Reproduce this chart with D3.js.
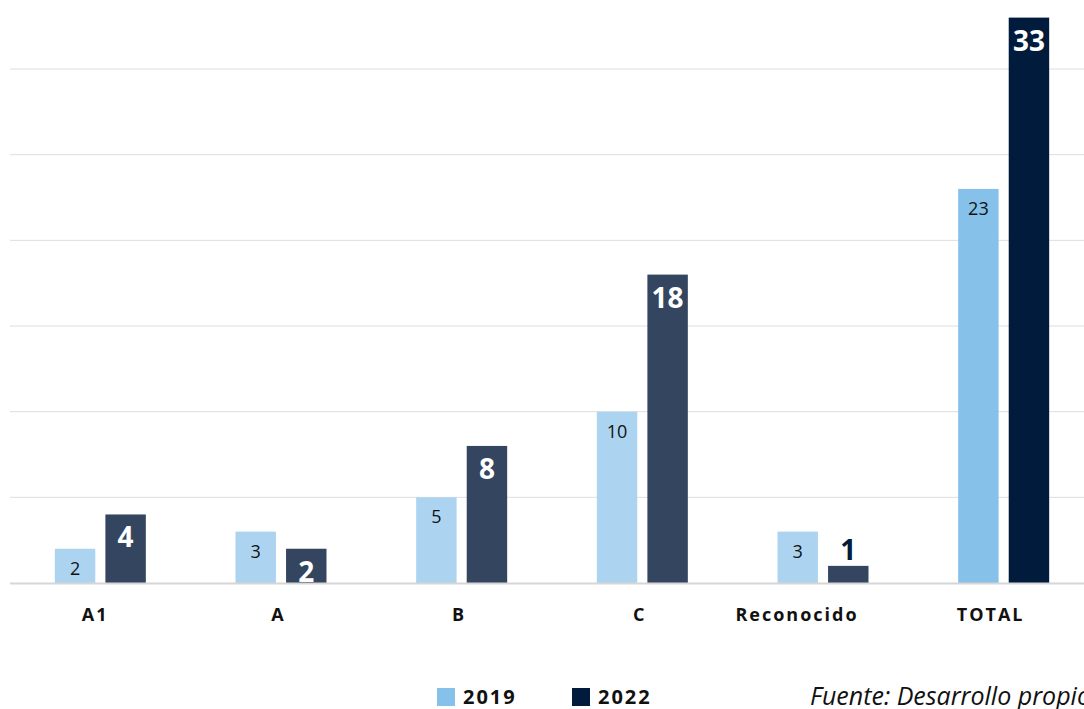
<!DOCTYPE html>
<html>
<head>
    <meta charset="utf-8">
    <style>
        body { margin: 0; background: white; }
        svg { display: block; font-family: 'Open Sans', 'Noto Sans', sans-serif; }
    </style>
</head>
<body>
    <svg width="1084" height="709"></svg>

<script src="https://d3js.org/d3.v7.min.js"></script>
<script>
    // data
    let categories = ["A1", "A", "B", "C", "Reconocido", "TOTAL"]
    let years = ["2019", "2022"]
    let values2019 = [2, 3, 5, 10, 3, 23]
    let values2022 = [4, 2, 8, 18, 1, 33]
    let gridTicks = [5, 10, 15, 20, 25, 30]

    let width = 1084
    let baseline = 583

    let svg = d3.select("svg")

    let x = d3.scaleBand()
        .domain(categories)
        .range([10, 1094])

    let x1 = d3.scaleBand()
        .domain(years)
        .range([-45.5, 45.5])
        .paddingInner(0.2)

    let y = d3.scaleLinear()
        .domain([0, 30])
        .range([baseline, baseline - 514])

    // fill colours, the TOTAL bars are darker than the rest
    let fill = (year, cat) => {
        if (year == "2019") return cat == "TOTAL" ? "#85c1e9" : "#acd4f1"
        return cat == "TOTAL" ? "#011b3d" : "#34465f"
    }

    // gridlines
    svg.append("g")
        .selectAll("line")
        .data(gridTicks)
        .join("line")
        .attr("x1", 10)
        .attr("x2", width)
        .attr("y1", d => y(d))
        .attr("y2", d => y(d))
        .attr("stroke", "#dedede")
        .attr("stroke-width", 1)

    let rows = categories.map((c, i) => ({ cat: c, v2019: values2019[i], v2022: values2022[i] }))

    let groups = svg.append("g")
        .selectAll("g")
        .data(rows)
        .join("g")
        .attr("transform", d => "translate(" + (x(d.cat) + x.bandwidth() / 2) + ",0)")

    groups.selectAll("rect")
        .data(d => years.map(yr => ({ cat: d.cat, year: yr, value: d["v" + yr] })))
        .join("rect")
        .attr("x", d => x1(d.year))
        .attr("width", x1.bandwidth())
        .attr("y", d => y(d.value))
        .attr("height", d => baseline - y(d.value))
        .attr("fill", d => fill(d.year, d.cat))

    // 2019 labels: regular, black, inside top
    groups.append("text")
        .attr("x", x1("2019") + x1.bandwidth() / 2)
        .attr("y", d => y(d.v2019) + 26)
        .attr("text-anchor", "middle")
        .style("font-size", "18px")
        .style("fill", "#111")
        .text(d => d.v2019)

    // 2022 labels: bold white inside, or dark above if the bar is too short
    groups.append("text")
        .attr("x", x1("2022") + x1.bandwidth() / 2)
        .attr("y", d => d.v2022 < 2 ? y(d.v2022) - 6 : y(d.v2022) + 33)
        .attr("text-anchor", "middle")
        .style("font-size", "28px")
        .style("font-weight", "bold")
        .style("fill", d => d.v2022 < 2 ? "#011b3d" : "white")
        .text(d => d.v2022)

    // baseline
    svg.append("line")
        .attr("x1", 10)
        .attr("x2", width)
        .attr("y1", baseline + 0.5)
        .attr("y2", baseline + 0.5)
        .attr("stroke", "#d6d6d6")
        .attr("stroke-width", 2)

    // category labels (they sit a bit left of the group centre, more so for long ones)
    svg.append("g")
        .selectAll("text")
        .data(categories)
        .join("text")
        .attr("x", d => x(d) + x.bandwidth() / 2 - d.length * 2.6)
        .attr("y", 621)
        .attr("text-anchor", "middle")
        .style("font-size", "18px")
        .style("font-weight", "bold")
        .style("letter-spacing", "2px")
        .style("fill", "#111")
        .text(d => d)

    // legend
    let legendX = [437, 572]
    let legend = svg.append("g")
        .selectAll("g")
        .data(years)
        .join("g")
        .attr("transform", (d, i) => "translate(" + legendX[i] + ",688)")

    legend.append("rect")
        .attr("width", 18)
        .attr("height", 18)
        .attr("fill", d => fill(d, "TOTAL"))

    legend.append("text")
        .attr("x", 26)
        .attr("y", 16)
        .style("font-size", "20px")
        .style("font-weight", "bold")
        .style("letter-spacing", "2px")
        .style("fill", "#111")
        .text(d => d)

    // source note, runs off the right edge like in the original
    svg.append("text")
        .attr("x", 810)
        .attr("y", 705)
        .style("font-style", "italic")
        .style("font-size", "25px")
        .style("fill", "#111")
        .text("Fuente: Desarrollo propio")
</script>
</body>
</html>
